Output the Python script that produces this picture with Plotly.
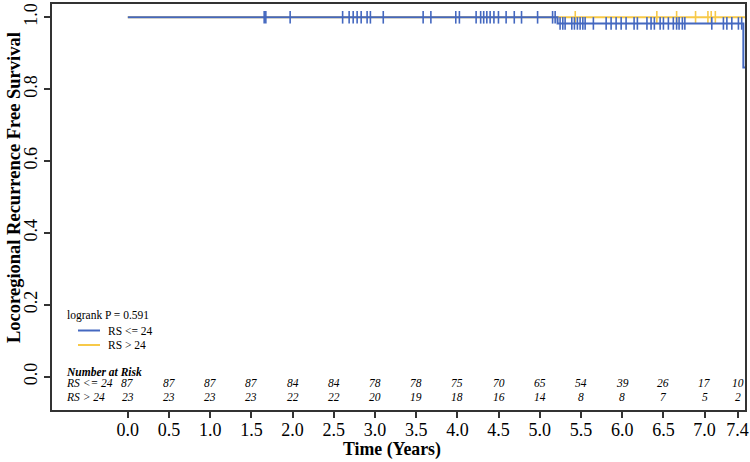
import numpy as np
import plotly.graph_objects as go

# ---------------- data ----------------
time_ticks = [0.0, 0.5, 1.0, 1.5, 2.0, 2.5, 3.0, 3.5, 4.0, 4.5, 5.0, 5.5, 6.0, 6.5, 7.0, 7.4]
tick_labels = ["0.0", "0.5", "1.0", "1.5", "2.0", "2.5", "3.0", "3.5", "4.0", "4.5",
               "5.0", "5.5", "6.0", "6.5", "7.0", "7.4"]
risk_low = [87, 87, 87, 87, 84, 84, 78, 78, 75, 70, 65, 54, 39, 26, 17, 10]
risk_high = [23, 23, 23, 23, 22, 22, 20, 19, 18, 16, 14, 8, 8, 7, 5, 2]

# Kaplan-Meier step points
low_t = [0.0, 5.215, 7.47, 7.49]
low_s = [1.0, 0.983, 0.86, 0.86]
high_t = [0.0, 7.49]
high_s = [1.0, 1.0]

# censoring times
low_cens = [1.655, 1.675, 1.97, 2.607, 2.686, 2.735, 2.783, 2.832, 2.904, 2.944, 3.10,
            3.584, 3.678, 3.98, 4.024, 4.227, 4.282, 4.319, 4.357, 4.397, 4.443, 4.498,
            4.591, 4.69, 4.778, 4.973, 5.155, 5.186,
            5.246, 5.279, 5.307, 5.388, 5.42, 5.456, 5.489, 5.522, 5.55, 5.65,
            5.805, 5.865, 5.926, 5.987, 6.047, 6.144, 6.184, 6.30, 6.35, 6.39,
            6.46, 6.50, 6.56, 6.62, 6.66, 6.69, 6.73, 6.76, 7.087, 7.228, 7.27,
            7.33, 7.41, 7.45]
high_cens = [5.43, 6.42, 6.66, 6.89, 7.04, 7.08, 7.13]

group_names = ["RS <= 24", "RS > 24"]
colors = ["#4468C0", "#F7C948"]
logrank_text = "logrank P = 0.591"
x_title = "Time (Years)"
y_title = "Locoregional Recurrence Free Survival"


def surv_at(times, st, ss):
    st = np.asarray(st)
    ss = np.asarray(ss)
    idx = np.searchsorted(st, np.asarray(times), side="right") - 1
    return ss[idx]


FONT = "Liberation Serif, Times New Roman, serif"
W, H = 750, 462
ML, MR, MT, MB = 52, 5, 4, 52
PW, PH = W - ML - MR, H - MT - MB


def px_x(p):  # pixel -> paper x
    return (p - ML) / PW


def px_y(p):  # pixel -> paper y
    return (H - MB - p) / PH


fig = go.Figure()

# draw the high group first so the low group sits on top
for name, t, s, cens, col in [
    (group_names[1], high_t, high_s, high_cens, colors[1]),
    (group_names[0], low_t, low_s, low_cens, colors[0]),
]:
    fig.add_trace(go.Scatter(
        x=t, y=s, mode="lines", line=dict(color=col, width=2, shape="hv"),
        name=name, showlegend=False, hoverinfo="skip"))
    fig.add_trace(go.Scatter(
        x=cens, y=surv_at(cens, t, s), mode="markers",
        marker=dict(symbol="line-ns", size=9, line=dict(color=col, width=1.6)),
        showlegend=False, hoverinfo="skip"))

ann = []
shapes = []
TF = dict(family=FONT, size=11.5, color="black")

# ---------------- axis titles (placed like the R margin text) ----------------
ann.append(dict(x=px_x(392), y=px_y(449), xref="paper", yref="paper", xanchor="center",
                yanchor="middle", showarrow=False, text="<b>" + x_title + "</b>",
                font=dict(family=FONT, size=17.8, color="black")))
ann.append(dict(x=px_x(14), y=px_y(188), xref="paper", yref="paper", xanchor="center",
                yanchor="middle", showarrow=False, textangle=-90,
                text="<b>" + y_title + "</b>",
                font=dict(family=FONT, size=18.5, color="black")))

# ---------------- legend (drawn manually) ----------------
ann.append(dict(x=px_x(65), y=px_y(315), xref="paper", yref="paper", xanchor="left",
                yanchor="middle", showarrow=False, text=logrank_text, font=TF))
for gname, col, yy in [(group_names[0], colors[0], 330.5), (group_names[1], colors[1], 345)]:
    shapes.append(dict(type="line", xref="paper", yref="paper",
                       x0=px_x(78), x1=px_x(100), y0=px_y(yy), y1=px_y(yy),
                       line=dict(color=col, width=2)))
    ann.append(dict(x=px_x(106), y=px_y(yy), xref="paper", yref="paper", xanchor="left",
                    yanchor="middle", showarrow=False, text=gname, font=TF))

# ---------------- risk table ----------------
ann.append(dict(x=px_x(64), y=px_y(371.5), xref="paper", yref="paper", xanchor="left",
                yanchor="middle", showarrow=False,
                text="<b><i>Number at Risk</i></b>", font=TF))
for gname, risks, yy in [(group_names[0], risk_low, 383), (group_names[1], risk_high, 396.5)]:
    ann.append(dict(x=px_x(64), y=px_y(yy), xref="paper", yref="paper", xanchor="left",
                    yanchor="middle", showarrow=False, text="<i>" + gname + "</i>", font=TF))
    for tt, r in zip(time_ticks, risks):
        ann.append(dict(x=tt, y=px_y(yy), xref="x", yref="paper", xanchor="center",
                        yanchor="middle", showarrow=False, text="<i>" + str(r) + "</i>",
                        font=TF))

fig.update_layout(
    width=W, height=H,
    margin=dict(l=ML, r=MR, t=MT, b=MB, autoexpand=False),
    paper_bgcolor="white", plot_bgcolor="white",
    font=dict(family=FONT, color="black"),
    annotations=ann, shapes=shapes,
    showlegend=False,
    xaxis=dict(
        range=[-0.92, 7.49], tickvals=time_ticks, ticktext=tick_labels,
        showgrid=False, zeroline=False, automargin=False,
        showline=True, mirror=True, linecolor="#333333", linewidth=2,
        ticks="outside", ticklen=6, tickwidth=1.5, tickcolor="#333333",
        ticklabelstandoff=-4,
        tickfont=dict(family=FONT, size=18, color="black"),
    ),
    yaxis=dict(
        range=[-0.0927, 1.037], tickvals=[0, 0.2, 0.4, 0.6, 0.8, 1.0],
        ticktext=["0.0", "0.2", "0.4", "0.6", "0.8", "1.0"], tickangle=-90,
        showgrid=False, zeroline=False, automargin=False,
        showline=True, mirror=True, linecolor="#333333", linewidth=2,
        ticks="outside", ticklen=6, tickwidth=1.5, tickcolor="#333333",
        tickfont=dict(family=FONT, size=18, color="black"),
    ),
)

fig.write_html("out.html", config={"displayModeBar": False},
               post_script="document.body.style.margin='0px';")
